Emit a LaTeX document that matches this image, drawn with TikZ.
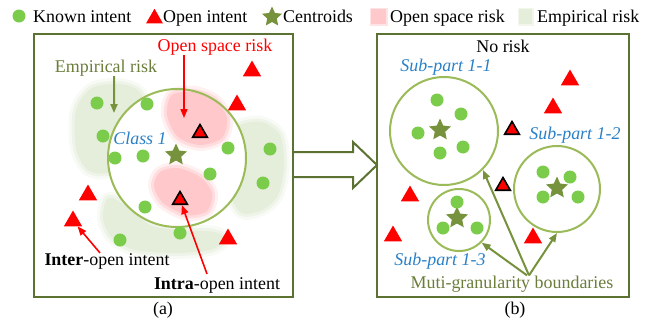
\documentclass[tikz,border=0pt]{standalone}
\usepackage{fontspec}
\setmainfont{Liberation Serif}
\usetikzlibrary{arrows.meta,shapes.geometric,positioning}
\definecolor{frameol}{HTML}{5B7232}
\definecolor{ringol}{HTML}{9BBB59}
\definecolor{starol}{HTML}{76923C}
\definecolor{textol}{HTML}{6A7D3B}
\definecolor{knowngreen}{HTML}{7ACC4A}
\definecolor{openred}{HTML}{FF0000}
\definecolor{osrisk}{HTML}{FFC9CC}
\definecolor{emprisk}{HTML}{E5EDDB}
\definecolor{classblue}{HTML}{2A80C6}

% soft-edged region: colour, closed list of points
\newcommand{\softblob}[2]{%
  \draw[#1,line width=12bp,opacity=.25,line join=round] plot[smooth cycle] coordinates {#2};
  \draw[#1,line width=6bp,opacity=.5,line join=round] plot[smooth cycle] coordinates {#2};
  \fill[#1] plot[smooth cycle] coordinates {#2};}

\tikzset{
  lbl/.style={font=\fontsize{18}{20}\selectfont,inner sep=0pt},
  sublbl/.style={lbl,font=\fontsize{18}{20}\selectfont\itshape,classblue},
  panel/.style={draw=frameol,line width=2bp,inner sep=0pt},
  ring/.style={circle,draw=ringol,line width=2bp,inner sep=0pt},
  kdot/.style={circle,fill=knowngreen,inner sep=0pt,minimum size=13bp},
  otri/.style={regular polygon,regular polygon sides=3,fill=openred,inner sep=0pt,minimum size=21bp},
  intri/.style={regular polygon,regular polygon sides=3,fill=openred,draw=black,line width=1.6bp,inner sep=0pt,minimum size=17bp},
  cstar/.style={star,star points=5,star point ratio=2.1,fill=starol,inner sep=0pt,minimum size=23bp},
  redarr/.style={draw=openred,line width=1.6bp,-{Triangle[length=9bp,width=7bp]}},
  olarr/.style={draw=starol,line width=2bp,-{Triangle[length=9bp,width=7bp]}}
}

\begin{document}
\begin{tikzpicture}[x=1bp,y=-1bp]
  \useasboundingbox (0,0) rectangle (660,321);

  % Legend
  \node[kdot] (lgk) at (19,16) {};
  \node[lbl,anchor=base west] (lgkt) at (33,22) {Known intent};
  \node[otri,minimum size=19.5bp] (lgo) at (154.5,18.5) {};
  \node[lbl,anchor=base west] (lgot) at (163,22) {Open intent};
  \node[cstar,minimum size=21bp] (lgc) at (272,17) {};
  \node[lbl,anchor=base west] (lgct) at (283,22) {Centroids};
  \draw[osrisk,line width=3bp,opacity=.5] (371,9) rectangle (386,24);
  \fill[osrisk] (371,9) rectangle (386,24);
  \node[lbl,anchor=base west] (lgst) at (390,22) {Open space risk};
  \draw[emprisk,line width=3bp,opacity=.5] (519,9) rectangle (532,24);
  \fill[emprisk] (519,9) rectangle (532,24);
  \node[lbl,anchor=base west] (lget) at (537,22) {Empirical risk};

  % Panel (a)
  \node[panel,minimum width=259bp,minimum height=263bp] (pa) at (163.5,165.5) {};
  \softblob{emprisk}{(92,88) (120,84) (140,92) (145,115) (130,150) (110,172) (88,170) (76,148) (76,110)}
  \softblob{emprisk}{(240,125) (262,122) (280,135) (284,165) (278,195) (262,210) (240,212) (225,180) (225,140)}
  \softblob{emprisk}{(108,198) (125,205) (150,225) (180,230) (215,232) (225,240) (210,250) (175,253) (135,250) (112,238) (103,218)}
  \fill[white] (177,158) circle[radius=69];
  \softblob{osrisk}{(172,95) (195,92) (215,100) (227,118) (222,138) (200,145) (178,137) (167,115)}
  \softblob{osrisk}{(160,172) (178,168) (200,177) (212,193) (207,211) (187,215) (163,203) (154,186)}
  \node[ring,minimum size=138bp] (cls) at (177,158) {};
  \node[sublbl,anchor=base] (clst) at (140,144) {Class 1};
  \node[cstar] (sa) at (176,155) {};
  \foreach \x/\y [count=\i] in {97/103,147/104,103/136,115/158,143/156,228/148,270/149,210/174,263/183,145/207,180/233,120/240}
    \node[kdot] (ka\i) at (\x,\y) {};
  \foreach \x/\y [count=\i] in {252/71,237/105,88/195,73/221,228/239}
    \node[otri] (ta\i) at (\x,\y) {};
  \node[intri] (tb1) at (200,133) {};
  \node[intri] (tb2) at (180,200) {};

  % Labels of panel (a)
  \node[lbl,anchor=base,openred] (osr) at (215,51) {Open space risk};
  \coordinate (osrtip) at (184,118);
  \draw[redarr] ([xshift=-31bp]osr.south) -- (osrtip);
  \node[lbl,anchor=base,textol] (emp) at (106,72) {Empirical risk};
  \coordinate (emptip) at (114,113);
  \draw[olarr] ([xshift=8bp]emp.south) -- (emptip);
  \node[lbl,anchor=base] (inter) at (107,265) {\textbf{Inter}-open intent};
  \draw[redarr] ([xshift=-7bp]inter.north) -- (ta4);
  \node[lbl,anchor=base] (intra) at (217,289) {\textbf{Intra}-open intent};
  \draw[redarr] ([xshift=-10bp,yshift=3bp]intra.north) -- (tb2);
  \node[lbl,anchor=base] (capa) at (163,314) {(a)};

  % Transition arrow
  \draw[frameol,line width=2bp,line join=miter] (293,152) -- (353,152) -- (353,142) -- (377,165) -- (353,188) -- (353,177) -- (293,177);

  % Panel (b)
  \node[panel,minimum width=252bp,minimum height=263bp] (pb) at (503,165.5) {};
  \node[lbl,anchor=base] (nor) at (503,52) {No risk};
  \node[ring,minimum size=108bp] (c11) at (444,131) {};
  \node[ring,minimum size=86bp] (c12) at (557,189) {};
  \node[ring,minimum size=62bp] (c13) at (459,220) {};
  \node[cstar] (s11) at (440,130) {};
  \node[cstar] (s12) at (557,188) {};
  \node[cstar] (s13) at (457,218) {};
  \foreach \x/\y [count=\i] in {437/100,461/114,418/133,463/147,440/153,543/172,570/177,543/197,578/197,457/202,443/228,477/228}
    \node[kdot] (kb\i) at (\x,\y) {};
  \foreach \x/\y [count=\i] in {570/80,553/108,410/196,393/236,533/238}
    \node[otri] (tc\i) at (\x,\y) {};
  \node[intri] (td1) at (512,130) {};
  \node[intri] (td2) at (503,186) {};

  % Labels of panel (b)
  \node[sublbl,anchor=base] (sp11) at (446,71) {Sub-part 1-1};
  \node[sublbl,anchor=base] (sp12) at (575,139) {Sub-part 1-2};
  \node[sublbl,anchor=base] (sp13) at (440,265) {Sub-part 1-3};
  \node[lbl,anchor=base,textol] (mgb) at (512,288) {Muti-granularity boundaries};
  \draw[olarr] ([xshift=17bp]mgb.north) -- (c11.-45);
  \draw[olarr] ([xshift=15bp]mgb.north) -- (c13.-45);
  \draw[olarr] ([xshift=17bp]mgb.north) -- (c12.-90);
  \node[lbl,anchor=base] (capb) at (515,314) {(b)};
\end{tikzpicture}
\end{document}
